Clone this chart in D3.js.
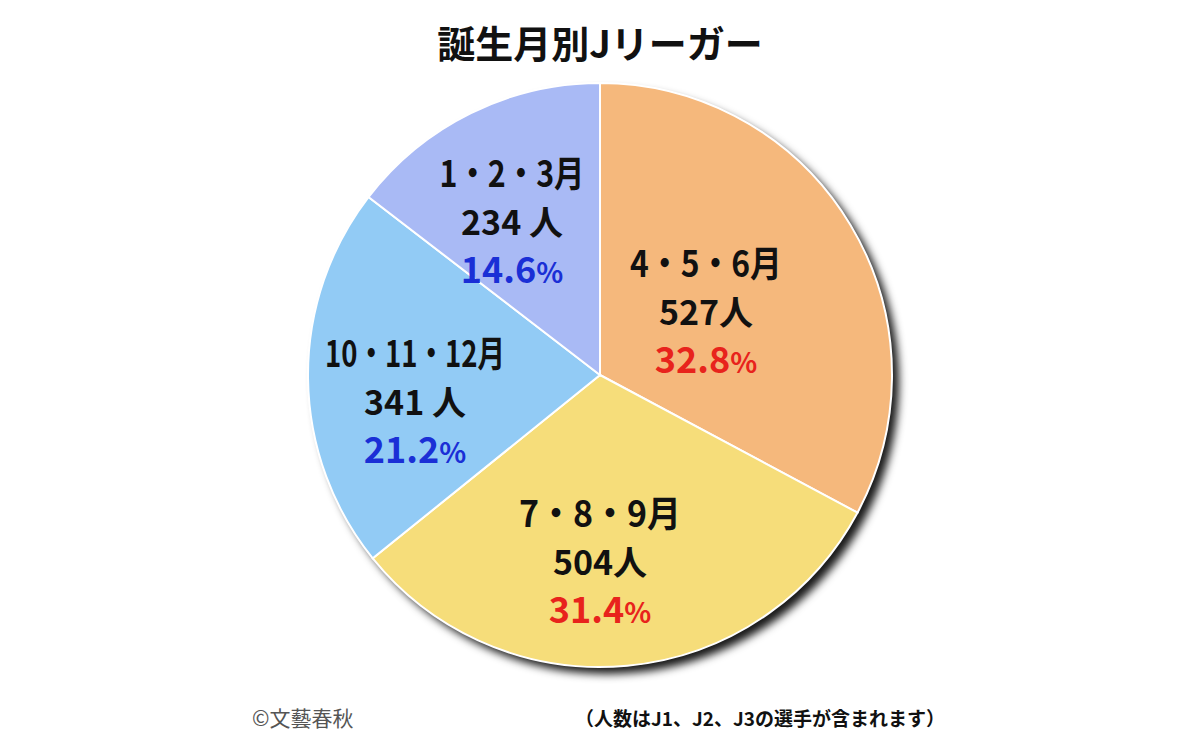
<!DOCTYPE html>
<html><head><meta charset="utf-8">
<script src="https://cdn.jsdelivr.net/npm/d3@7"></script>
<style>body{margin:0;background:#fff}text{font-family:"Noto Sans CJK JP","Noto Sans",sans-serif}</style>
</head><body>
<svg id="chart" width="1200" height="750"></svg>
<script>
// data
var groups = ['4・5・6月', '7・8・9月', '10・11・12月', '1・2・3月'];
var counts = [527, 504, 341, 234];
var countLabels = ['527人', '504人', '341 人', '234 人'];
var percents = ['32.8', '31.4', '21.2', '14.6'];
var colors = ['#f5b87c', '#f6dd7a', '#92cbf5', '#a9baf5'];
var pctColors = ['#e8231c', '#e8231c', '#1a2fd6', '#1a2fd6'];

var svg = d3.select('#chart');
var cx = 600, cy = 375, r = 292;

var defs = svg.append('defs');
var f = defs.append('filter').attr('id', 'shadow').attr('x', '-10%').attr('y', '-10%').attr('width', '130%').attr('height', '130%');
f.append('feDropShadow').attr('dx', 7).attr('dy', 7).attr('stdDeviation', 4).attr('flood-color', '#000').attr('flood-opacity', 0.9);

svg.append('text').attr('x', 600).attr('y', 58).attr('text-anchor', 'middle')
  .style('font-size', '38px').style('font-weight', 'bold').attr('fill', '#111').text('誕生月別Jリーガー');

var pie = d3.pie().sort(null)(counts);
var arc = d3.arc().innerRadius(0).outerRadius(r);
var g = svg.append('g').attr('transform', 'translate(' + cx + ',' + cy + ')');

g.append('circle').attr('r', r).attr('fill', '#fff').attr('filter', 'url(#shadow)');
g.selectAll('path.slice').data(pie).enter().append('path')
  .attr('d', arc).attr('fill', function (d, i) { return colors[i]; })
  .attr('stroke', '#fff').attr('stroke-width', 2);

// label anchor offsets relative to centre, and first-line widths
var labelPos = [[106, -98], [0, 152], [-185, -8], [-88, -188]];
var titleWidth = [152, 162, 180, 145];
var lg = g.selectAll('g.label').data(pie).enter().append('g')
  .attr('transform', function (d, i) { return 'translate(' + labelPos[i][0] + ',' + labelPos[i][1] + ')'; })
  .attr('text-anchor', 'middle').style('font-weight', 'bold');
lg.append('text').attr('y', 0).style('font-size', '36px').attr('fill', '#111')
  .attr('textLength', function (d, i) { return titleWidth[i]; })
  .attr('lengthAdjust', 'spacingAndGlyphs')
  .text(function (d, i) { return groups[i]; });
lg.append('text').attr('y', 48).style('font-size', '34px').attr('fill', '#111')
  .text(function (d, i) { return countLabels[i]; });
var pt = lg.append('text').attr('y', 96).style('font-size', '36px')
  .attr('fill', function (d, i) { return pctColors[i]; });
pt.append('tspan').text(function (d, i) { return percents[i]; });
pt.append('tspan').style('font-size', '28px').text('%');

svg.append('text').attr('x', 252).attr('y', 726).style('font-size', '21px').attr('fill', '#555').text('©文藝春秋');
svg.append('text').attr('x', 575).attr('y', 726).style('font-size', '19px').style('font-weight', 'bold')
  .attr('fill', '#111').text('（人数はJ1、J2、J3の選手が含まれます）');
</script>
</body></html>
